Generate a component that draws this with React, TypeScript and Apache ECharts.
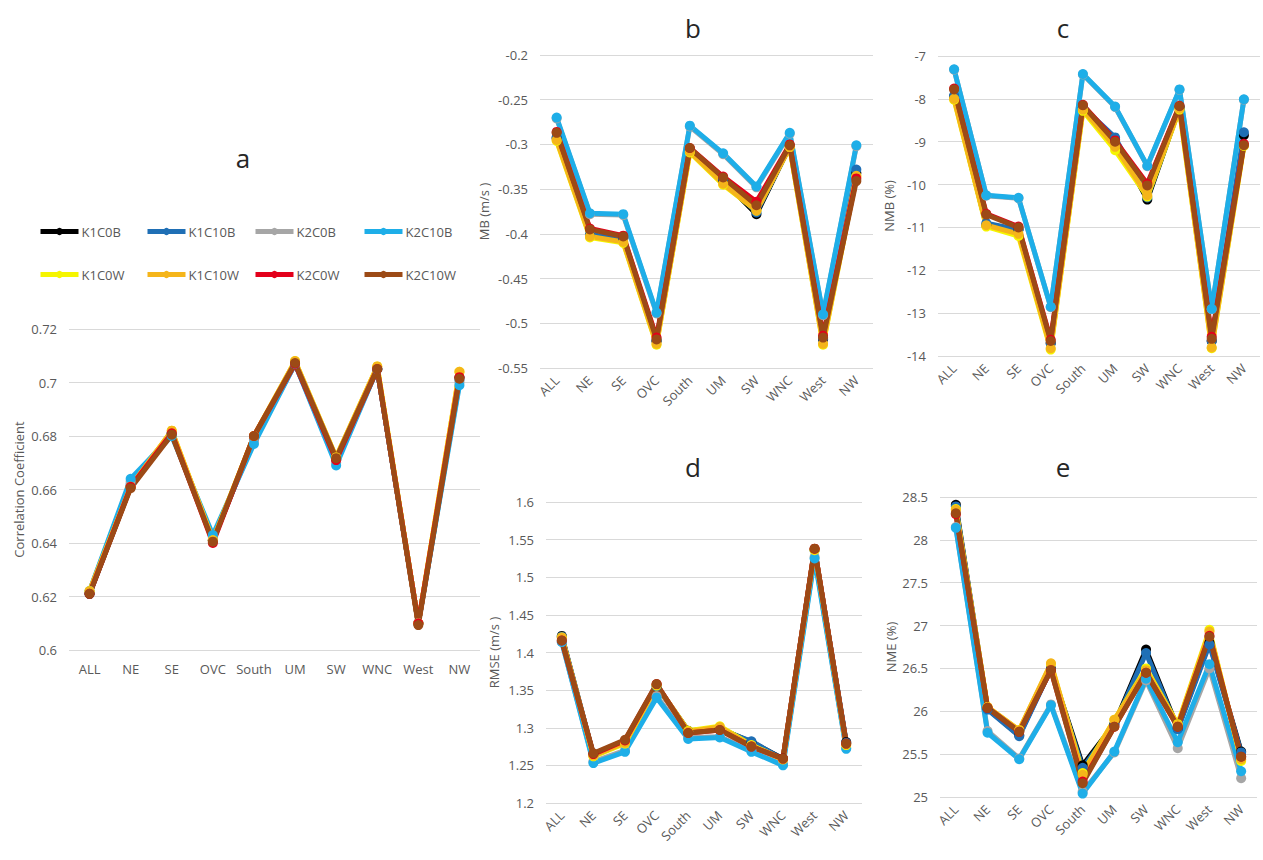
import React, { useEffect, useRef } from 'react';
import * as echarts from 'echarts';

const categories = ['ALL', 'NE', 'SE', 'OVC', 'South', 'UM', 'SW', 'WNC', 'West', 'NW'];
const seriesNames = ['K1C0B', 'K1C10B', 'K2C0B', 'K2C10B', 'K1C0W', 'K1C10W', 'K2C0W', 'K2C10W'];
const seriesColors = ['#000000', '#1f6fb5', '#a6a6a6', '#1eaee8', '#f5f500', '#f5b51a', '#e3001b', '#9c4a16'];

// rows follow seriesNames order
const corrValues = [
  [0.621, 0.661, 0.681, 0.641, 0.679, 0.707, 0.671, 0.705, 0.610, 0.702],
  [0.621, 0.662, 0.681, 0.641, 0.679, 0.707, 0.671, 0.705, 0.610, 0.701],
  [0.622, 0.663, 0.681, 0.642, 0.678, 0.707, 0.670, 0.705, 0.610, 0.700],
  [0.622, 0.664, 0.680, 0.643, 0.677, 0.707, 0.669, 0.705, 0.610, 0.699],
  [0.622, 0.661, 0.682, 0.641, 0.680, 0.708, 0.672, 0.706, 0.610, 0.704],
  [0.622, 0.661, 0.682, 0.641, 0.680, 0.708, 0.672, 0.706, 0.610, 0.704],
  [0.621, 0.661, 0.681, 0.640, 0.680, 0.707, 0.671, 0.705, 0.610, 0.702],
  [0.621, 0.6605, 0.6805, 0.6405, 0.680, 0.7073, 0.6717, 0.705, 0.6093, 0.7014],
];

const mbValues = [
  [-0.293, -0.402, -0.405, -0.520, -0.306, -0.340, -0.378, -0.302, -0.518, -0.332],
  [-0.292, -0.401, -0.405, -0.519, -0.306, -0.339, -0.376, -0.302, -0.517, -0.328],
  [-0.271, -0.378, -0.379, -0.489, -0.280, -0.311, -0.348, -0.288, -0.491, -0.302],
  [-0.270, -0.377, -0.378, -0.488, -0.279, -0.310, -0.347, -0.287, -0.490, -0.301],
  [-0.296, -0.404, -0.410, -0.524, -0.309, -0.345, -0.374, -0.303, -0.524, -0.336],
  [-0.295, -0.403, -0.409, -0.523, -0.308, -0.344, -0.374, -0.303, -0.523, -0.335],
  [-0.286, -0.394, -0.402, -0.516, -0.304, -0.336, -0.364, -0.300, -0.514, -0.338],
  [-0.287, -0.395, -0.403, -0.518, -0.304, -0.337, -0.368, -0.301, -0.516, -0.341],
];

const nmbValues = [
  [-7.95, -10.95, -11.05, -13.70, -8.20, -8.95, -10.35, -8.20, -13.65, -8.85],
  [-7.92, -10.90, -11.05, -13.70, -8.20, -8.90, -10.30, -8.20, -13.65, -8.78],
  [-7.32, -10.26, -10.32, -12.86, -7.43, -8.19, -9.57, -7.79, -12.91, -8.02],
  [-7.31, -10.25, -10.31, -12.85, -7.42, -8.18, -9.56, -7.78, -12.90, -8.01],
  [-8.02, -10.98, -11.20, -13.85, -8.28, -9.20, -10.28, -8.25, -13.82, -9.10],
  [-8.00, -10.95, -11.15, -13.82, -8.25, -9.12, -10.25, -8.23, -13.80, -9.08],
  [-7.76, -10.68, -10.98, -13.62, -8.14, -8.97, -9.98, -8.16, -13.55, -9.05],
  [-7.78, -10.70, -11.00, -13.65, -8.15, -9.00, -10.02, -8.17, -13.60, -9.08],
];

const rmseValues = [
  [1.422, 1.264, 1.281, 1.356, 1.296, 1.299, 1.281, 1.259, 1.537, 1.281],
  [1.421, 1.263, 1.280, 1.355, 1.295, 1.298, 1.282, 1.258, 1.536, 1.280],
  [1.414, 1.255, 1.270, 1.342, 1.287, 1.288, 1.270, 1.252, 1.527, 1.273],
  [1.414, 1.253, 1.268, 1.340, 1.285, 1.287, 1.268, 1.250, 1.525, 1.272],
  [1.420, 1.262, 1.279, 1.356, 1.296, 1.302, 1.277, 1.258, 1.536, 1.277],
  [1.420, 1.263, 1.280, 1.357, 1.295, 1.301, 1.276, 1.258, 1.537, 1.278],
  [1.416, 1.265, 1.283, 1.358, 1.293, 1.297, 1.275, 1.259, 1.538, 1.279],
  [1.416, 1.266, 1.284, 1.358, 1.293, 1.297, 1.275, 1.259, 1.538, 1.279],
];

const nmeValues = [
  [28.41, 26.03, 25.72, 26.50, 25.37, 25.85, 26.72, 25.80, 26.80, 25.53],
  [28.39, 26.02, 25.71, 26.49, 25.34, 25.84, 26.68, 25.79, 26.78, 25.52],
  [28.15, 25.77, 25.45, 26.08, 25.06, 25.52, 26.36, 25.57, 26.50, 25.22],
  [28.14, 25.75, 25.44, 26.07, 25.04, 25.53, 26.38, 25.64, 26.55, 25.30],
  [28.36, 26.05, 25.78, 26.55, 25.28, 25.90, 26.50, 25.85, 26.95, 25.42],
  [28.35, 26.05, 25.78, 26.56, 25.26, 25.90, 26.48, 25.84, 26.93, 25.44],
  [28.30, 26.04, 25.76, 26.48, 25.18, 25.82, 26.45, 25.82, 26.88, 25.47],
  [28.31, 26.04, 25.76, 26.48, 25.16, 25.82, 26.45, 25.82, 26.87, 25.47],
];

const panelTitles = ['a', 'b', 'c', 'd', 'e'];
const axisNames = ['Correlation Coefficient', 'MB (m/s )', 'NMB (%)', 'RMSE (m/s )', 'NME (%)'];

const FONT = '"Open Sans", "Noto Sans", sans-serif';
const TEXT_COLOR = '#595959';
const GRID_COLOR = '#d9d9d9';

const panels = [
  { values: corrValues, grid: { left: 69, top: 329, width: 411, height: 321 }, min: 0.6, max: 0.72, interval: 0.02, nameGap: 44, rotate: 0, title: [243, 158] },
  { values: mbValues, grid: { left: 540, top: 55, width: 333, height: 313 }, min: -0.55, max: -0.2, interval: 0.05, nameGap: 50, rotate: 45, title: [693, 28] },
  { values: nmbValues, grid: { left: 938, top: 56, width: 322, height: 300 }, min: -14, max: -7, interval: 1, nameGap: 43, rotate: 45, title: [1063, 28] },
  { values: rmseValues, grid: { left: 546, top: 502, width: 316, height: 301 }, min: 1.2, max: 1.6, interval: 0.05, nameGap: 46, rotate: 45, title: [693, 467] },
  { values: nmeValues, grid: { left: 940, top: 497, width: 317, height: 300 }, min: 25, max: 28.5, interval: 0.5, nameGap: 43, rotate: 45, title: [1063, 467] },
];

const legendLefts = [38, 145, 253, 362];
const legendTops = [230, 273];

export default function App() {
  const ref = useRef<HTMLDivElement>(null);

  useEffect(() => {
    if (!ref.current) return;
    const chart = echarts.init(ref.current, undefined, { renderer: 'svg' });

    const grids = panels.map((p) => ({ ...p.grid, containLabel: false }));
    const xAxes = panels.map((p, i) => ({
      type: 'category',
      gridIndex: i,
      data: categories,
      boundaryGap: true,
      axisLine: { show: false },
      axisTick: { show: false },
      axisLabel: {
        color: TEXT_COLOR,
        fontSize: 13,
        fontFamily: FONT,
        rotate: p.rotate,
        margin: p.rotate ? 10 : 12,
        interval: 0,
      },
    }));
    const yAxes = panels.map((p, i) => ({
      type: 'value',
      gridIndex: i,
      min: p.min,
      max: p.max,
      interval: p.interval,
      name: axisNames[i],
      nameLocation: 'middle',
      nameGap: p.nameGap,
      nameTextStyle: { color: TEXT_COLOR, fontSize: 13, fontFamily: FONT },
      axisLine: { show: false },
      axisTick: { show: false },
      axisLabel: { color: TEXT_COLOR, fontSize: 13, fontFamily: FONT, margin: 12 },
      splitLine: { show: true, lineStyle: { color: GRID_COLOR, width: 1 } },
    }));

    const series: any[] = [];
    panels.forEach((p, pi) => {
      seriesNames.forEach((name, si) => {
        series.push({
          type: 'line',
          name,
          xAxisIndex: pi,
          yAxisIndex: pi,
          data: p.values[si],
          symbol: 'circle',
          symbolSize: 10,
          color: seriesColors[si],
          lineStyle: { width: 5, color: seriesColors[si] },
          itemStyle: { color: seriesColors[si] },
        });
      });
    });

    const legends = seriesNames.map((name, i) => ({
      show: true,
      data: [name],
      left: legendLefts[i % 4],
      top: legendTops[Math.floor(i / 4)] - 5,
      itemWidth: 38,
      itemHeight: 9,
      itemGap: 0,
      padding: 0,
      selectedMode: false,
      lineStyle: { width: 5 },
      textStyle: { color: TEXT_COLOR, fontSize: 13, fontFamily: FONT, padding: [0, 0, 0, -2] },
    }));

    const graphic = panels.map((p, i) => ({
      type: 'text',
      x: p.title[0],
      y: p.title[1],
      style: {
        text: panelTitles[i],
        fontSize: 26,
        fontFamily: FONT,
        fill: '#262626',
        textAlign: 'center',
        textVerticalAlign: 'middle',
      },
    }));

    chart.setOption({
      animation: false,
      backgroundColor: '#ffffff',
      grid: grids,
      xAxis: xAxes,
      yAxis: yAxes,
      legend: legends,
      graphic,
      series,
    });

    return () => chart.dispose();
  }, []);

  return (
    <div
      ref={ref}
      style={{ position: 'absolute', left: 0, top: 0, width: 1263, height: 860, background: '#fff' }}
    />
  );
}
